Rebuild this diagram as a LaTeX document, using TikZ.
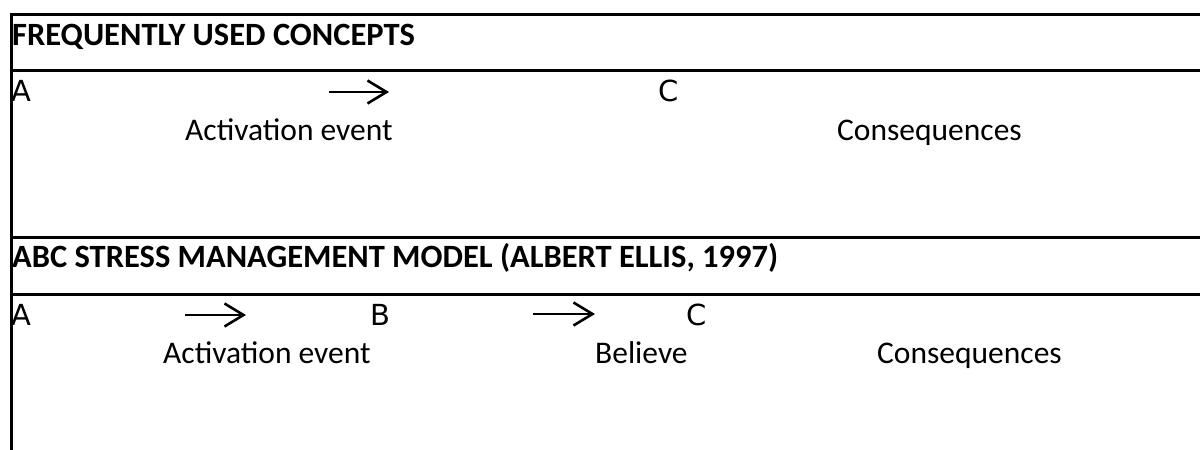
\documentclass[tikz,border=0pt]{standalone}
\usepackage{fontspec}
\setmainfont{Carlito}
\newfontfamily\letterfont{DejaVu Sans}
\usetikzlibrary{arrows.meta}

\tikzset{
  rule/.style={line width=3pt, line cap=rect},
  head/.style={anchor=base west, inner sep=0pt, font=\fontsize{32.5}{36}\selectfont\bfseries},
  letter/.style={anchor=base west, inner sep=0pt, font=\letterfont\fontsize{29}{32}\selectfont},
  label/.style={anchor=base west, inner sep=0pt, font=\fontsize{31.5}{36}\selectfont},
  flow/.style={line width=2.6pt, -{Straight Barb[length=19pt, width=23pt, line width=2.6pt]}}
}

\begin{document}
\begin{tikzpicture}[x=1pt, y=-1pt]
  \useasboundingbox (0,0) rectangle (1200,450);

  % table rules (the right edge runs off the page)
  \draw[rule] (1200,14) -- (11,14) -- (11,450);
  \draw[rule] (11,70) -- (1200,70);
  \draw[rule] (11,237) -- (1200,237);
  \draw[rule] (11,294) -- (1200,294);

  % first section
  \node[head] (h1) at (12,45) {FREQUENTLY USED CONCEPTS};
  \node[letter] (a1) at (11,101) {A};
  \node[letter] (c1) at (658,101) {C};
  \node[label] (ev1) at (185,140) {Activation event};
  \node[label] (co1) at (837,140) {Consequences};
  \coordinate (p1s) at (329,92);
  \coordinate (p1e) at (389,92);
  \draw[flow] (p1s) -- (p1e);

  % second section
  \node[head] (h2) at (12,267) {ABC STRESS MANAGEMENT MODEL (ALBERT ELLIS, 1997)};
  \node[letter] (a2) at (11,325) {A};
  \node[letter] (b2) at (370,325) {B};
  \node[letter] (c2) at (686,325) {C};
  \node[label] (ev2) at (163,363) {Activation event};
  \node[label] (be2) at (595,363) {Believe};
  \node[label] (co2) at (877,363) {Consequences};
  \coordinate (q1s) at (185,315);
  \coordinate (q1e) at (246,315);
  \coordinate (q2s) at (533,314);
  \coordinate (q2e) at (595,314);
  \draw[flow] (q1s) -- (q1e);
  \draw[flow] (q2s) -- (q2e);
\end{tikzpicture}
\end{document}
